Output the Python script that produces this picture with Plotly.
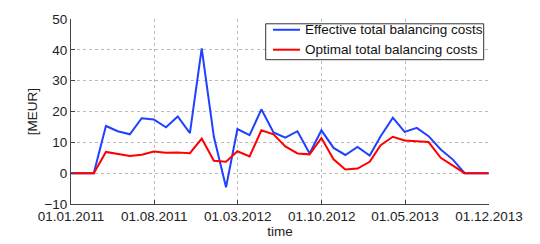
import plotly.graph_objects as go
import pandas as pd

dates = pd.date_range("2010-12-31", "2013-11-30", freq="ME").strftime("%Y-%m-%d").tolist()

effective = [0, 0, 0, 15.3, 13.6, 12.6, 17.8, 17.4, 14.9, 18.4, 13.0, 40.5,
             11.8, -4.6, 14.3, 12.3, 20.7, 13.2, 11.5, 13.6, 6.4, 13.9, 8.2, 5.9,
             8.5, 5.7, 12.0, 18.0, 13.4, 14.7, 12.0, 7.7, 4.4, 0, 0, 0]
optimal = [0, 0, 0, 6.9, 6.3, 5.6, 6.0, 7.0, 6.6, 6.7, 6.5, 11.2,
           4.0, 3.7, 7.1, 5.4, 13.9, 12.6, 8.7, 6.4, 6.1, 11.4, 4.5, 1.2,
           1.5, 3.7, 9.1, 11.8, 10.6, 10.3, 10.1, 5.0, 2.6, 0, 0, 0]

series_names = ["Effective total balancing costs", "Optimal total balancing costs"]
series_colors = ["#2040ff", "#ff0000"]

tick_vals = ["2011-01-01", "2011-08-01", "2012-03-01", "2012-10-01", "2013-05-01", "2013-12-01"]
tick_text = ["01.01.2011", "01.08.2011", "01.03.2012", "01.10.2012", "01.05.2013", "01.12.2013"]
y_ticks = [-10, 0, 10, 20, 30, 40, 50]

fig = go.Figure()
for vals, name, col in zip([effective, optimal], series_names, series_colors):
    fig.add_trace(go.Scatter(x=dates, y=vals, mode="lines", name=name,
                             line=dict(color=col, width=2), showlegend=False))

font = dict(family="Liberation Sans, Arial, sans-serif", size=13.5, color="#222222")

# legend drawn as a box (paper coordinates)
fig.add_shape(type="rect", xref="paper", yref="paper", x0=0.4658, x1=0.9873, y0=0.780, y1=0.9741,
              line=dict(color="#333333", width=1), fillcolor="white", layer="above")
row_y = [0.9418, 0.834]
for ry, name, col in zip(row_y, series_names, series_colors):
    fig.add_shape(type="line", xref="paper", yref="paper", x0=0.4833, x1=0.5478, y0=ry, y1=ry,
                  line=dict(color=col, width=2), layer="above")
    fig.add_annotation(xref="paper", yref="paper", x=0.555, y=ry, text=name, showarrow=False,
                       xanchor="left", yanchor="middle", font=dict(family=font["family"], size=13.5, color="#111111"))

fig.update_layout(
    width=540, height=244,
    margin=dict(l=63, r=59, t=10.5, b=48),
    paper_bgcolor="white", plot_bgcolor="white",
    font=font,
    showlegend=False,
)
fig.update_xaxes(
    type="date", range=["2011-01-01", "2013-12-01"],
    tickvals=tick_vals, ticktext=tick_text, automargin=False,
    showgrid=True, gridcolor="#bbbbbb", griddash="dot", gridwidth=1,
    showline=True, linecolor="#444444", linewidth=1,
    ticks="inside", ticklen=4, tickcolor="#444444",
    zeroline=False,
    title=dict(text="time", standoff=2, font=font),
)
fig.update_yaxes(
    range=[-10, 50], tickvals=y_ticks, automargin=False,
    showgrid=True, gridcolor="#bbbbbb", griddash="dot", gridwidth=1,
    showline=True, linecolor="#444444", linewidth=1,
    ticks="inside", ticklen=4, tickcolor="#444444",
    zeroline=False,
    title=dict(text="[MEUR]", standoff=3, font=font),
)
fig.write_html("out.html")
